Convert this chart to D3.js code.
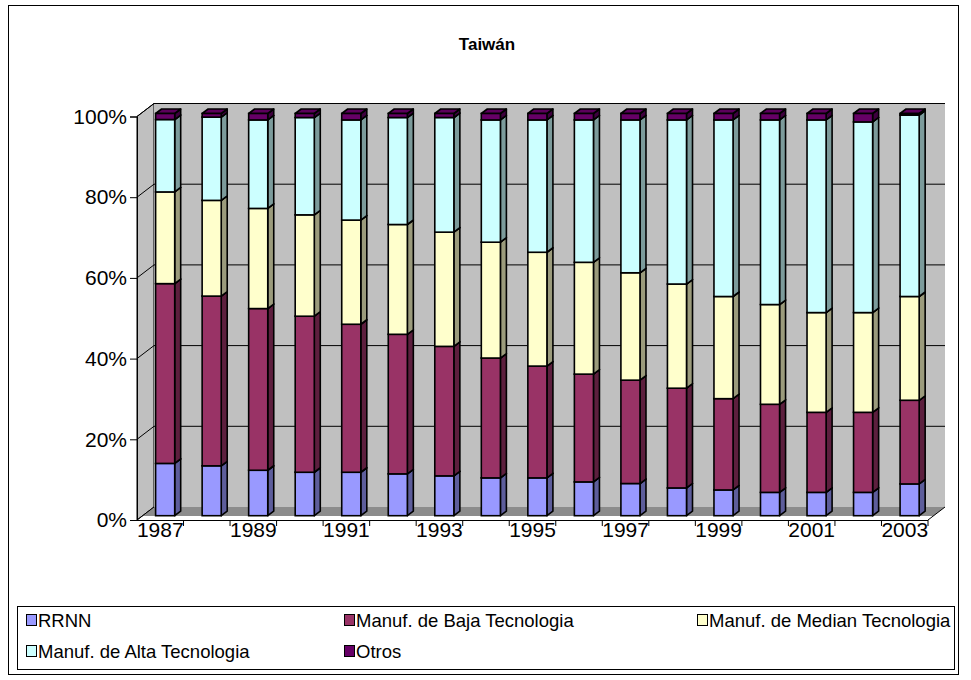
<!DOCTYPE html>
<html>
<head>
<meta charset="utf-8">
<script src="https://cdn.jsdelivr.net/npm/d3@7"></script>
<style>
  html, body { margin: 0; padding: 0; background: #fff; }
  svg { display: block; font-family: Arial, "Liberation Sans", sans-serif; }
</style>
</head>
<body>
<svg id="chart" width="971" height="680"></svg>
<script>
// Export structure by technology level, Taiwán (% of total)
const years = ["1987","1988","1989","1990","1991","1992","1993","1994","1995",
               "1996","1997","1998","1999","2000","2001","2002","2003"];
const rrnn   = [13.0,12.4,11.3,10.8,10.8,10.4, 9.9, 9.4, 9.4, 8.4, 8.0, 6.9, 6.4, 5.8, 5.8, 5.8, 7.9];
const baja   = [44.7,42.2,40.2,38.8,36.8,34.7,32.2,29.8,27.8,26.8,25.7,24.8,22.7,21.9,19.9,19.9,20.8];
const median = [22.8,23.8,24.9,25.2,25.9,27.3,28.4,28.8,28.3,27.8,26.7,25.9,25.4,24.8,24.8,24.8,25.8];
const alta   = [18.0,20.7,22.0,24.2,24.9,26.6,28.5,30.4,32.9,35.4,38.0,40.8,43.9,45.9,47.9,47.4,45.1];
const otros  = [ 1.5, 0.9, 1.6, 1.0, 1.6, 1.0, 1.0, 1.6, 1.6, 1.6, 1.6, 1.6, 1.6, 1.6, 1.6, 2.1, 0.4];

const seriesNames = ["RRNN", "Manuf. de Baja Tecnologia", "Manuf. de Median Tecnologia",
                     "Manuf. de Alta Tecnologia", "Otros"];
const seriesValues = [rrnn, baja, median, alta, otros];
const seriesColors = ["#9999FF", "#993366", "#FFFFCC", "#CCFFFF", "#660066"];
const yTicks = [0, 0.2, 0.4, 0.6, 0.8, 1];
const xLabelYears = ["1987","1989","1991","1993","1995","1997","1999","2001","2003"];

const svg = d3.select("#chart");
const FONT = "Arial, 'Liberation Sans', sans-serif";

// outer chart frame
svg.append("rect").attr("x", 8.5).attr("y", 5.5).attr("width", 950).attr("height", 669)
  .attr("fill", "#fff").attr("stroke", "#000").attr("stroke-width", 1);

// title
svg.append("text").attr("x", 487).attr("y", 50).attr("text-anchor", "middle")
  .attr("font-weight", "bold").attr("font-size", 17).text("Taiwán");

// 3D box geometry
const x0 = 137, x1 = 928;          // front edge of the category axis
const dx = 17, dy = -13;           // depth offset to the back wall
const yFront = d3.scaleLinear().domain([0, 1]).range([520, 116.5]);
const yBack  = v => yFront(v) + dy;

const data = years.map((yr, i) => {
  const o = { year: yr };
  seriesNames.forEach((s, k) => { o[s] = seriesValues[k][i]; });
  return o;
});
const stacked = d3.stack().keys(seriesNames).offset(d3.stackOffsetExpand)(data);

const xBand = d3.scaleBand().domain(years).range([x0, x1]).padding(0);

const g = svg.append("g");

// left side wall
g.append("path")
  .attr("d", d3.line()([[x0, yFront(1)], [x0 + dx, yBack(1)], [x0 + dx, yBack(0)], [x0, yFront(0)]]) + "Z")
  .attr("fill", "#C0C0C0").attr("stroke", "#000").attr("stroke-width", 1);
// back wall
g.append("rect").attr("x", x0 + dx).attr("y", yBack(1))
  .attr("width", x1 - x0).attr("height", yBack(0) - yBack(1))
  .attr("fill", "#C0C0C0").attr("stroke", "none");
g.append("line").attr("x1", x0 + dx).attr("x2", x1 + dx).attr("y1", yBack(1)).attr("y2", yBack(1))
  .attr("stroke", "#000");

// floor slab top, between the back edge and its front lip
const floorFront = 516;
const lipShift = dx * (yFront(0) - floorFront) / (yFront(0) - yBack(0));
g.append("path")
  .attr("d", d3.line()([[x0 + dx, yBack(0)], [x1 + dx, yBack(0)],
                         [x1 + lipShift, floorFront], [x0 + lipShift, floorFront]]) + "Z")
  .attr("fill", "#8C8C8C").attr("stroke", "none");
g.append("line").attr("x1", x0).attr("y1", yFront(0)).attr("x2", x0 + dx).attr("y2", yBack(0)).attr("stroke", "#000");
g.append("line").attr("x1", x1).attr("y1", yFront(0)).attr("x2", x1 + dx).attr("y2", yBack(0)).attr("stroke", "#000");

// gridlines: back wall horizontals and side wall diagonals
yTicks.filter(t => t > 0).forEach(t => {
  g.append("line").attr("x1", x0 + dx).attr("x2", x1 + dx).attr("y1", yBack(t)).attr("y2", yBack(t))
    .attr("stroke", "#000").attr("stroke-width", 1);
  g.append("line").attr("x1", x0).attr("y1", yFront(t)).attr("x2", x0 + dx).attr("y2", yBack(t))
    .attr("stroke", "#000").attr("stroke-width", 1);
});

// value axis
const yAxis = d3.axisLeft(yFront).tickValues(yTicks).tickFormat(d3.format(".0%")).tickSize(7).tickPadding(3);
const ya = svg.append("g").attr("transform", `translate(${x0},0)`).call(yAxis);
ya.select(".domain").attr("stroke", "#000");
ya.selectAll(".tick line").attr("stroke", "#000");
ya.selectAll("text").attr("font-size", 21).attr("fill", "#000").attr("font-family", FONT);

// category axis along the front edge
const xAxis = d3.axisBottom(xBand).tickSize(0).tickFormat(d => xLabelYears.includes(d) ? d : "");
const xa = svg.append("g").attr("transform", `translate(0,${yFront(0)})`).call(xAxis);
xa.select(".domain").attr("d", `M${x0},0.5H${x1}`).attr("stroke", "#000");
xa.selectAll("text").attr("font-size", 21).attr("fill", "#000").attr("dy", null).attr("y", 17)
  .attr("font-family", FONT);
xa.selectAll(".tick line").remove();
d3.range(1, years.length + 1).forEach(i => {
  const tx = x0 + i * xBand.step();
  xa.append("line").attr("x1", tx).attr("x2", tx).attr("y1", 0).attr("y2", 6).attr("stroke", "#000");
});

// bars: front face, right side face and top face for every stacked segment
const ybar = d3.scaleLinear().domain([0, 1]).range([515.7, 113.5]);
const bw = xBand.bandwidth() * 0.41, bOff = xBand.bandwidth() * 0.40;
const bdx = 6, bdy = -4.5;
const bars = svg.append("g");
years.forEach((yr, i) => {
  const bx = xBand(yr) + bOff;
  stacked.forEach((layer, k) => {
    const [a, b] = layer[i];
    const yt = ybar(b), yb = ybar(a);
    const col = d3.color(seriesColors[k]);
    const sideCol = col.darker(1.4);
    const topCol = col.darker(0.3);
    const sw = 1.6;
    bars.append("path")
      .attr("d", d3.line()([[bx + bw, yb], [bx + bw + bdx, yb + bdy], [bx + bw + bdx, yt + bdy], [bx + bw, yt]]) + "Z")
      .attr("fill", sideCol).attr("stroke", "#000").attr("stroke-width", sw).attr("stroke-linejoin", "round");
    bars.append("path")
      .attr("d", d3.line()([[bx, yt], [bx + bdx, yt + bdy], [bx + bw + bdx, yt + bdy], [bx + bw, yt]]) + "Z")
      .attr("fill", topCol).attr("stroke", "#000").attr("stroke-width", sw).attr("stroke-linejoin", "round");
    bars.append("rect").attr("x", bx).attr("y", yt).attr("width", bw).attr("height", yb - yt)
      .attr("fill", seriesColors[k]).attr("stroke", "#000").attr("stroke-width", sw);
  });
});

// legend
const lg = svg.append("g");
lg.append("rect").attr("x", 17.5).attr("y", 606.5).attr("width", 937).attr("height", 63)
  .attr("fill", "#fff").attr("stroke", "#000");
const legendPos = [[26, 621], [344, 621], [697, 621], [26, 652], [344, 652]];
seriesNames.forEach((s, k) => {
  const [lx, ly] = legendPos[k];
  lg.append("rect").attr("x", lx + 0.5).attr("y", ly - 6.5).attr("width", 10).attr("height", 11)
    .attr("fill", seriesColors[k]).attr("stroke", "#000");
  lg.append("text").attr("x", lx + 12).attr("y", ly).attr("dy", "0.35em")
    .attr("font-size", 18.5).text(s);
});
</script>
</body>
</html>
